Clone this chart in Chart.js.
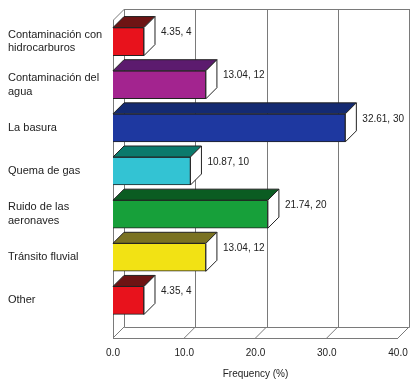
<!DOCTYPE html>
<html>
<head>
  <script src="https://cdn.jsdelivr.net/npm/chart.js"></script>
  <style>
    body { margin: 0; background: #fff; }
    #wrap { width: 411px; height: 384px; }
  </style>
</head>
<body>
  <div id="wrap"><canvas id="barChart"></canvas></div>

  <script>
    // categories and values
    var categories = [
      ['Contaminación con', 'hidrocarburos'],
      ['Contaminación del', 'agua'],
      'La basura',
      'Quema de gas',
      ['Ruido de las', 'aeronaves'],
      'Tránsito fluvial',
      'Other'
    ];
    var percents = [4.35, 13.04, 32.61, 10.87, 21.74, 13.04, 4.35];
    var counts = [4, 12, 30, 10, 20, 12, 4];
    var xTicks = [0, 10, 20, 30, 40];

    var frontColors = ['#e8121c', '#a3248f', '#1e38a0', '#33c3d3', '#17a03a', '#f2e214', '#e8121c'];
    var topColors = ['#6e1414', '#5c1b6e', '#142a72', '#0b7a6c', '#0b5c22', '#7a7222', '#6e1414'];

    var DX = 11, DY = 11, FLOOR_EXTRA = 16;

    // back wall, side wall, floor, bar faces and value labels
    var wallPlugin = {
      id: 'wall',
      beforeDatasetsDraw: function(chart) {
        var ctx = chart.ctx, a = chart.chartArea, x = chart.scales.x;
        var frontBottom = a.bottom + FLOOR_EXTRA;
        var backBottom = frontBottom - DY;
        var backTop = a.top - DY;
        var x0 = x.getPixelForValue(0), x40 = x.getPixelForValue(40);
        ctx.save();
        ctx.strokeStyle = '#7a7a7a';
        ctx.lineWidth = 1;
        ctx.beginPath();
        ctx.rect(Math.round(x0 + DX) + 0.5, backTop + 0.5, Math.round(x40 - x0), backBottom - backTop);
        xTicks.forEach(function(v) {
          var px = Math.round(x.getPixelForValue(v) + DX) + 0.5;
          ctx.moveTo(px, backTop);
          ctx.lineTo(px, backBottom);
        });
        ctx.moveTo(x0 + 0.5, a.top);
        ctx.lineTo(x0 + 0.5, frontBottom);
        ctx.moveTo(x0 + 0.5, a.top);
        ctx.lineTo(x0 + DX + 0.5, backTop);
        ctx.moveTo(x0, frontBottom + 0.5);
        ctx.lineTo(x40, frontBottom + 0.5);
        xTicks.forEach(function(v) {
          var px = x.getPixelForValue(v);
          ctx.moveTo(px, frontBottom);
          ctx.lineTo(px + DX, backBottom);
        });
        ctx.stroke();
        ctx.restore();
      },
      afterDatasetsDraw: function(chart) {
        var ctx = chart.ctx;
        var meta = chart.getDatasetMeta(0);
        ctx.save();
        ctx.strokeStyle = '#222';
        ctx.lineWidth = 1;
        meta.data.forEach(function(bar, i) {
          var top = bar.y - bar.height / 2, bot = bar.y + bar.height / 2;
          var base = bar.base, end = bar.x;
          ctx.beginPath();
          ctx.moveTo(base, top);
          ctx.lineTo(end, top);
          ctx.lineTo(end + DX, top - DY);
          ctx.lineTo(base + DX, top - DY);
          ctx.closePath();
          ctx.fillStyle = topColors[i];
          ctx.fill();
          ctx.stroke();
          ctx.beginPath();
          ctx.moveTo(end, top);
          ctx.lineTo(end + DX, top - DY);
          ctx.lineTo(end + DX, bot - DY);
          ctx.lineTo(end, bot);
          ctx.closePath();
          ctx.fillStyle = '#ffffff';
          ctx.fill();
          ctx.stroke();
          ctx.fillStyle = '#222';
          ctx.font = '10px "Liberation Sans", Arial, sans-serif';
          ctx.textBaseline = 'middle';
          ctx.textAlign = 'left';
          ctx.fillText(percents[i].toFixed(2) + ', ' + counts[i], end + DX + 6, bar.y - 9);
        });
        ctx.restore();
      }
    };

    var config = {
      type: 'bar',
      data: {
        labels: categories,
        datasets: [{
          data: percents,
          backgroundColor: frontColors,
          borderColor: '#222',
          borderWidth: 1,
          barThickness: 28
        }]
      },
      options: {
        indexAxis: 'y',
        responsive: true,
        maintainAspectRatio: false,
        animation: false,
        layout: { padding: { top: 20, right: 13, left: 8, bottom: 0 } },
        plugins: {
          legend: { display: false },
          tooltip: { enabled: false }
        },
        scales: {
          x: {
            min: 0,
            max: 40,
            afterFit: function(s) { s.height = 62; s.paddingLeft = 0; s.paddingRight = 0; },
            afterBuildTicks: function(s) { s.ticks = xTicks.map(function(v) { return { value: v }; }); },
            grid: { display: false, drawTicks: false },
            border: { display: false },
            ticks: {
              padding: 25,
              color: '#222',
              font: { family: '"Liberation Sans", Arial, sans-serif', size: 10 },
              callback: function(v) { return Number(v).toFixed(1); }
            },
            title: {
              display: true,
              text: 'Frequency (%)',
              color: '#222',
              font: { family: '"Liberation Sans", Arial, sans-serif', size: 10 },
              padding: { top: 0, bottom: 4 }
            }
          },
          y: {
            afterFit: function(s) { s.width = 105; s.paddingTop = 0; s.paddingBottom = 0; },
            grid: { display: false, drawTicks: false },
            border: { display: false },
            ticks: {
              crossAlign: 'far',
              padding: 6,
              color: '#222',
              font: { family: '"Liberation Sans", Arial, sans-serif', size: 11, lineHeight: 1.25 }
            }
          }
        }
      },
      plugins: [wallPlugin]
    };

    new Chart(document.getElementById('barChart').getContext('2d'), config);
  </script>
</body>
</html>
